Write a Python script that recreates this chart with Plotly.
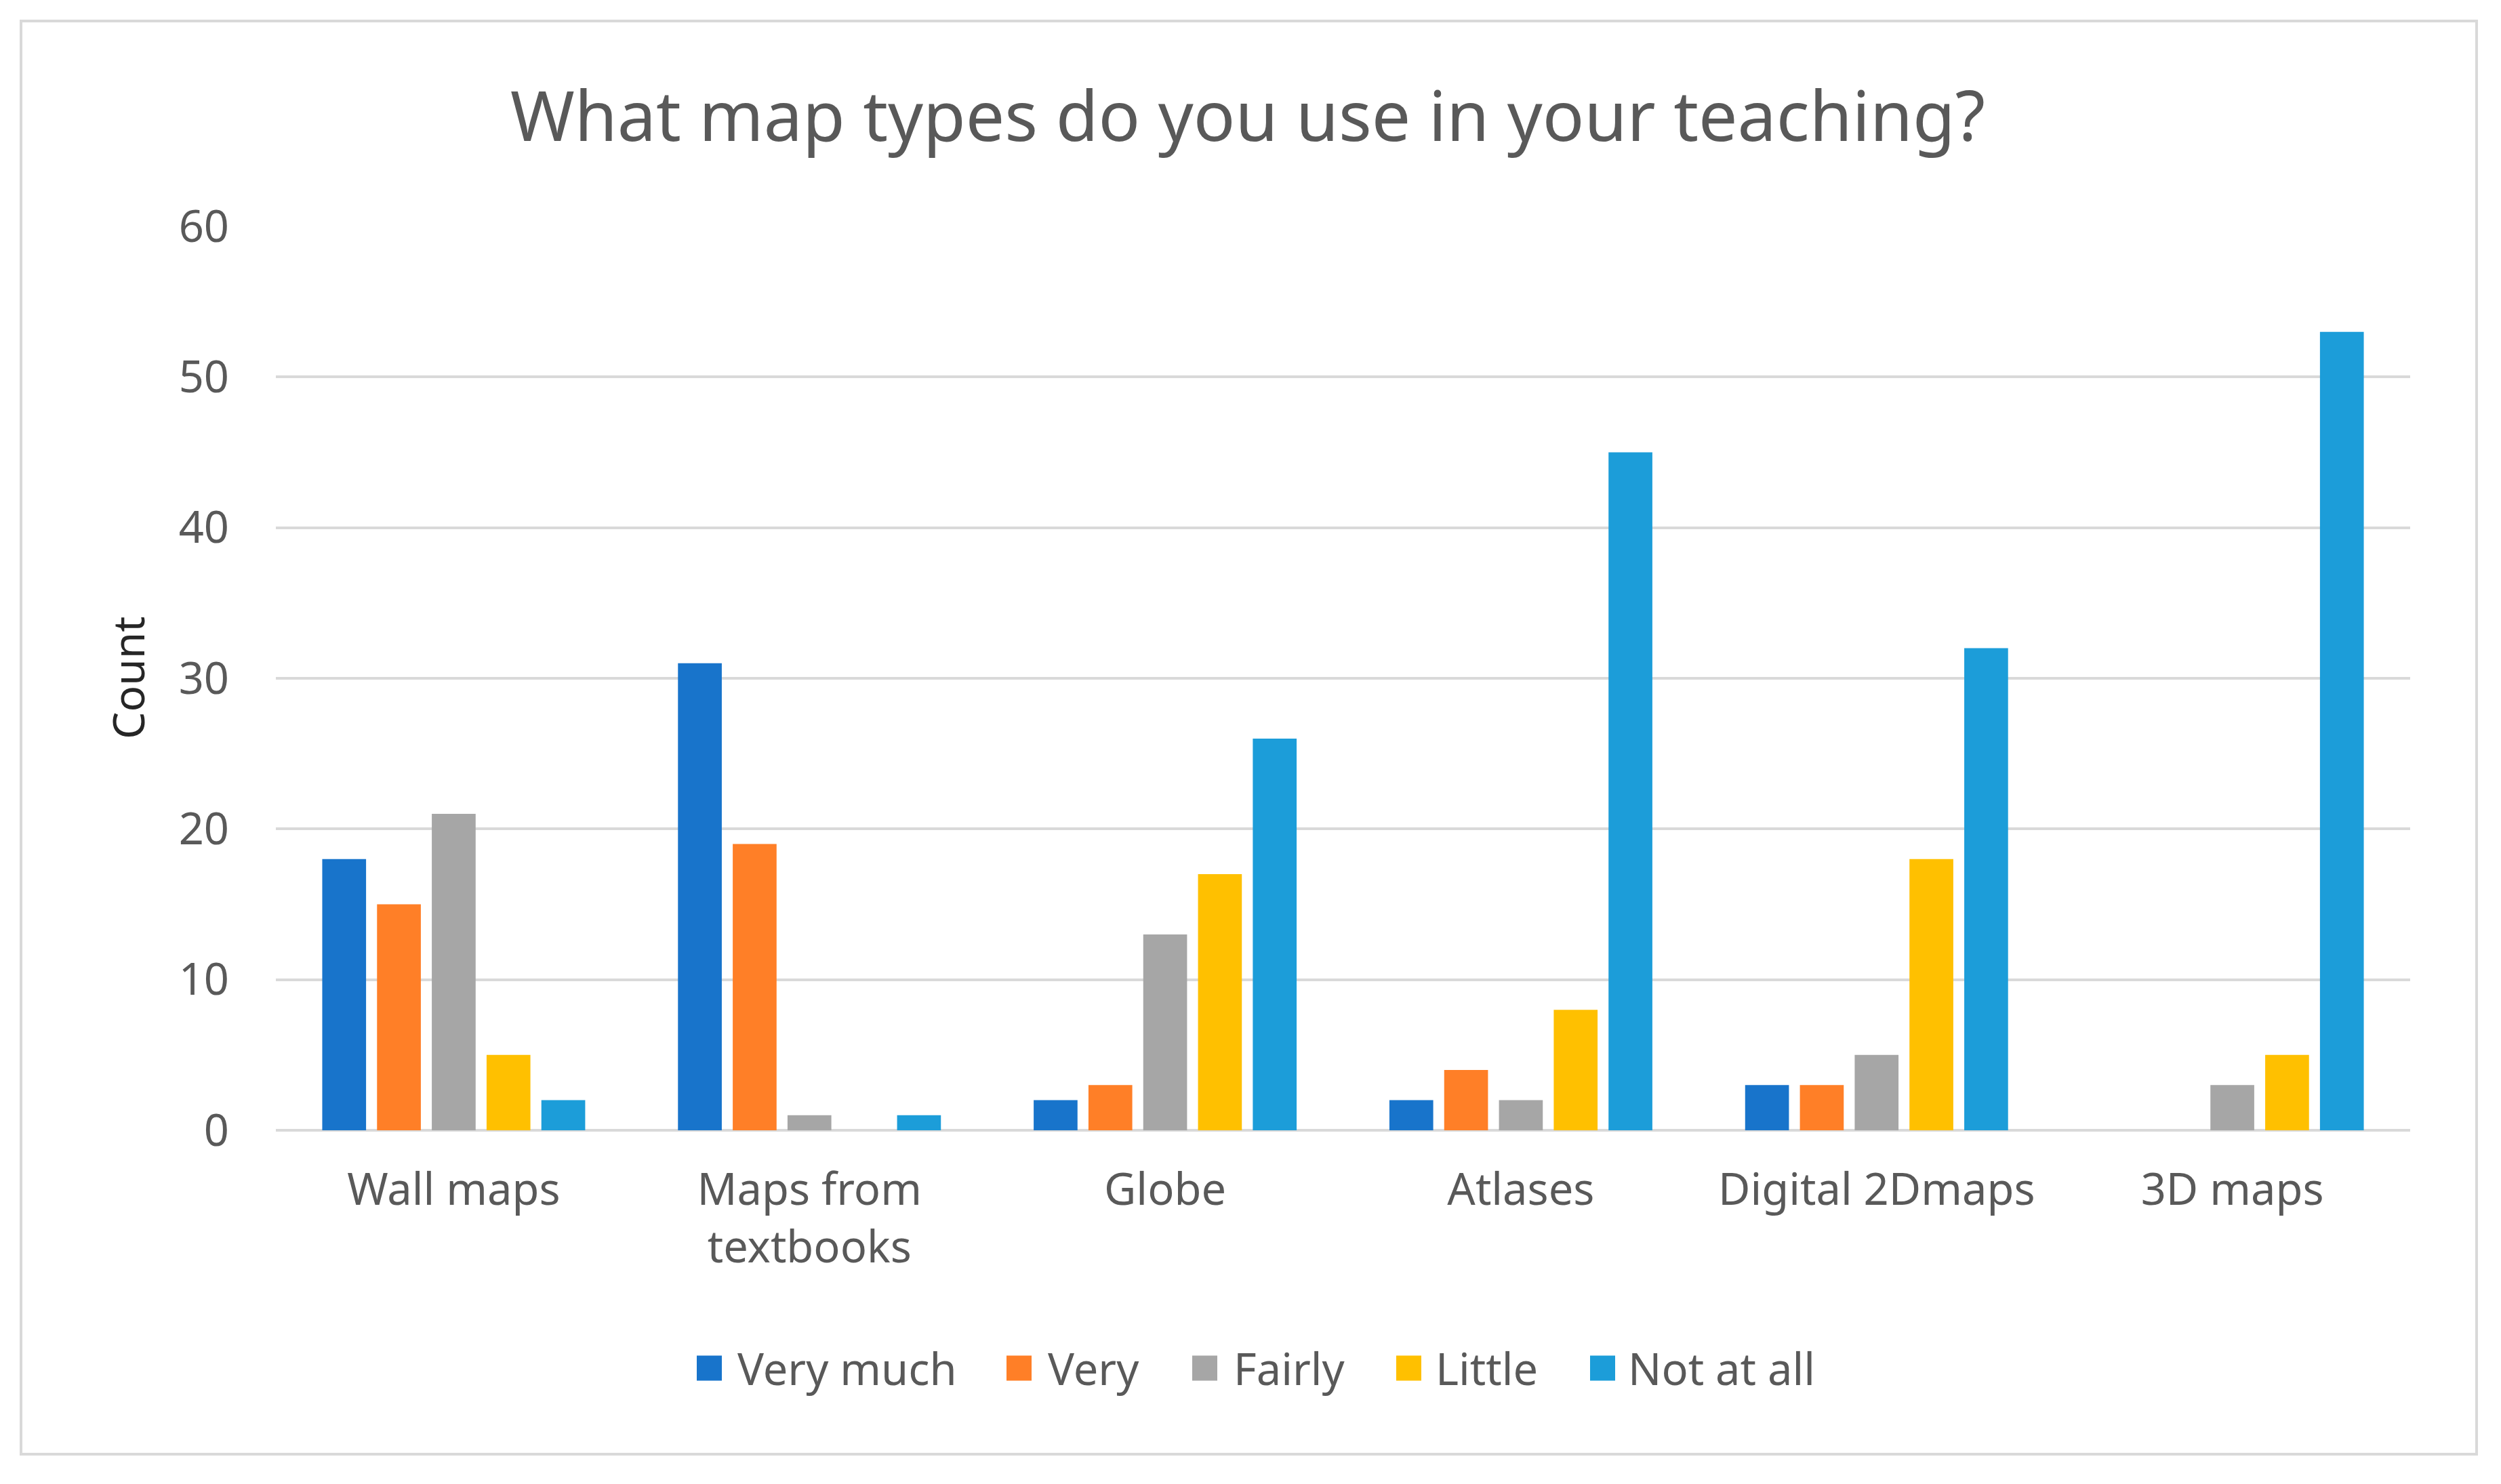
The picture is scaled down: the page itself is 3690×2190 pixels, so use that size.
import plotly.graph_objects as go

# ---------------- data ----------------
categories = ["Wall maps", "Maps from<br>textbooks", "Globe", "Atlases", "Digital 2Dmaps", "3D maps"]
series_names = ["Very much", "Very", "Fairly", "Little", "Not at all"]
very_much = [18, 31, 2, 2, 3, 0]
very = [15, 19, 3, 4, 3, 0]
fairly = [21, 1, 13, 2, 5, 3]
little = [5, 0, 17, 8, 18, 5]
not_at_all = [2, 1, 26, 45, 32, 53]
y_ticks = [0, 10, 20, 30, 40, 50, 60]
series_values = [very_much, very, fairly, little, not_at_all]

# ---------------- style ----------------
colors = ["#1874CB", "#FF7F27", "#A6A6A6", "#FFC000", "#1C9DD9"]
FONT = "Noto Sans"
TEXT_GREY = "#595959"
GRID = "#D9D9D9"
TICK_SIZE = 65

W, H = 3690, 2190
L, R, T, B = 407, 3556, 334, 1668  # plot area in pixels


def px_x(x):
    return (x - L) / (R - L)


def px_y(y):
    return (B - y) / (B - T)


fig = go.Figure()
for name, vals, col in zip(series_names, series_values, colors):
    fig.add_trace(go.Bar(name=name, x=categories, y=vals, marker=dict(color=col, line=dict(width=0))))

# legend (custom, to match large square keys)
legend_sq_left = [1028, 1485, 1759, 2060, 2346]
legend_txt_left = [1086, 1544, 1818, 2116, 2400]
legend_cy = 2019
sq = 37
shapes = []
annotations = []
for name, col, sx, tx in zip(series_names, colors, legend_sq_left, legend_txt_left):
    shapes.append(dict(type="rect", xref="paper", yref="paper",
                       x0=px_x(sx), x1=px_x(sx + sq),
                       y0=px_y(legend_cy + sq / 2), y1=px_y(legend_cy - sq / 2),
                       fillcolor=col, line=dict(width=0)))
    annotations.append(dict(text=name, xref="paper", yref="paper",
                            x=px_x(tx), y=px_y(legend_cy), xanchor="left", yanchor="middle",
                            showarrow=False, font=dict(family=FONT, size=TICK_SIZE, color=TEXT_GREY)))

# outer border
shapes.append(dict(type="rect", xref="paper", yref="paper",
                   x0=px_x(31), x1=px_x(3654), y0=px_y(2146), y1=px_y(31),
                   line=dict(color=GRID, width=4), fillcolor="rgba(0,0,0,0)", layer="below"))

# y axis title
annotations.append(dict(text="Count", xref="paper", yref="paper", x=px_x(188), y=0.5,
                        xanchor="center", yanchor="middle", textangle=-90, showarrow=False,
                        font=dict(family=FONT, size=64, color="#262626")))

fig.update_layout(
    width=W, height=H,
    margin=dict(l=L, r=W - R, t=T, b=H - B, autoexpand=False),
    paper_bgcolor="white", plot_bgcolor="white",
    barmode="group", bargap=0.23, bargroupgap=0.2,
    showlegend=False,
    title=dict(text="What map types do you use in your teaching?",
               x=1841 / W, xref="container", xanchor="center",
               y=1 - 172 / H, yref="container", yanchor="middle",
               font=dict(family=FONT, size=102, color=TEXT_GREY)),
    font=dict(family=FONT, color=TEXT_GREY),
    shapes=shapes,
    annotations=annotations,
)
fig.update_xaxes(showgrid=False, showline=False, zeroline=False, ticks="",
                 tickfont=dict(family=FONT, size=TICK_SIZE, color=TEXT_GREY), automargin=False,
                 ticklabelstandoff=44)
fig.update_yaxes(range=[0, 60], tickvals=y_ticks, showgrid=True, gridcolor=GRID, gridwidth=3.5,
                 zeroline=True, zerolinecolor=GRID, zerolinewidth=4, showline=False, ticks="",
                 tickfont=dict(family=FONT, size=TICK_SIZE, color=TEXT_GREY), automargin=False,
                 ticklabelstandoff=68)

fig.write_html("out.html", config={"displayModeBar": False},
               post_script="document.body.style.margin='0';document.body.style.padding='0';")
